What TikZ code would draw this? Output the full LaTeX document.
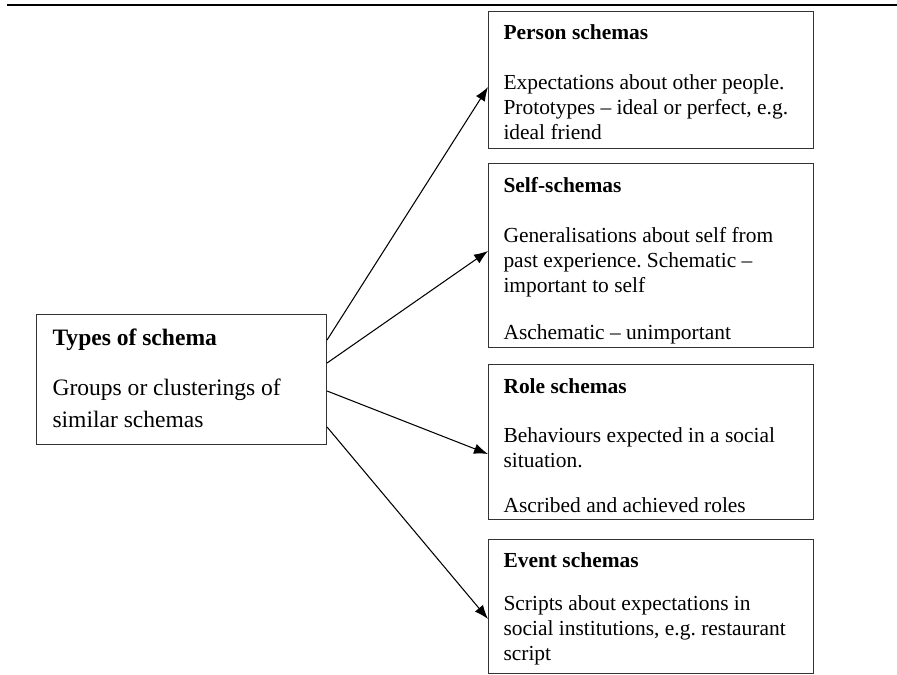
\documentclass[tikz,border=0pt]{standalone}
\usepackage{fontspec}
\setmainfont{Liberation Serif}
\usepackage{tikz}
\usetikzlibrary{arrows.meta,positioning,calc}
\frenchspacing

\begin{document}
\begin{tikzpicture}[font=\fontsize{12.2}{14.2}\selectfont,
  schemabox/.style={draw=black!80,line width=0.6pt,anchor=north west,inner xsep=0.3cm,inner ysep=0pt,align=left},
  link/.style={line width=0.6pt,-{Latex[length=2.8mm,width=2.1mm]}}]
\useasboundingbox (0,0) rectangle (17.94,13.5);
% rule across the top of the page
\draw[line width=1.1pt] (0.14,13.4) -- (17.94,13.4);
% the main box on the left
\node[schemabox,inner xsep=0.32cm] (types) at (0.72,7.22)
  {\parbox[c][2.6cm][t]{5.16cm}{\fontsize{13.4}{18.2}\selectfont\rule{0pt}{0.62cm}\textbf{Types of schema}\\[0.36cm]Groups or clusterings of\\similar schemas}};
% the four kinds of schema
\node[schemabox] (person) at (9.76,13.28)
  {\parbox[c][2.74cm][t]{5.9cm}{\rule{0pt}{0.56cm}\textbf{Person schemas}\\[0.5cm]Expectations about other people.\\Prototypes – ideal or perfect, e.g.\\ideal friend}};
\node[schemabox] (self) at (9.76,10.24)
  {\parbox[c][3.68cm][t]{5.9cm}{\rule{0pt}{0.58cm}\textbf{Self-schemas}\\[0.5cm]Generalisations about self from\\past experience. Schematic –\\important to self\\[0.44cm]Aschematic – unimportant}};
\node[schemabox] (role) at (9.76,6.22)
  {\parbox[c][3.1cm][t]{5.9cm}{\rule{0pt}{0.58cm}\textbf{Role schemas}\\[0.48cm]Behaviours expected in a social\\situation.\\[0.4cm]Ascribed and achieved roles}};
\node[schemabox] (event) at (9.76,2.72)
  {\parbox[c][2.68cm][t]{5.9cm}{\rule{0pt}{0.56cm}\textbf{Event schemas}\\[0.36cm]Scripts about expectations in\\social institutions, e.g. restaurant\\script}};
% arrows fanning out
\foreach \dy/\to/\ty in {0.52/person/1.52,0.98/self/1.76,1.54/role/1.8,2.26/event/1.6}{
  \draw[link] ([yshift=-\dy cm]types.north east) -- ([yshift=-\ty cm]\to.north west);}
\end{tikzpicture}
\end{document}
